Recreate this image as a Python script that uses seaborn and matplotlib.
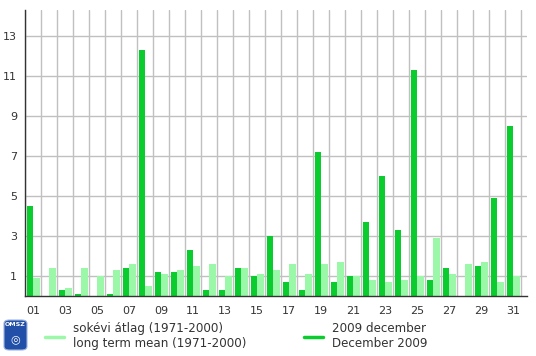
import numpy as np
import pandas as pd
import matplotlib
matplotlib.use("Agg")
import matplotlib.pyplot as plt
import seaborn as sns
from matplotlib.lines import Line2D
from matplotlib.patches import FancyBboxPatch

# daily values, December 2009 vs long term mean (1971-2000)
days = [f"{d:02d}" for d in range(1, 32)]
dec_2009 = [4.5, 0.0, 0.3, 0.1, 0.0, 0.1, 1.4, 12.3, 1.2, 1.2, 2.3, 0.3, 0.3, 1.4, 1.0, 3.0,
            0.7, 0.3, 7.2, 0.7, 1.0, 3.7, 6.0, 3.3, 11.3, 0.8, 1.4, 0.0, 1.5, 4.9, 8.5]
long_mean = [0.9, 1.4, 0.4, 1.4, 1.0, 1.3, 1.6, 0.5, 1.1, 1.3, 1.5, 1.6, 1.0, 1.4, 1.1, 1.3,
             1.6, 1.1, 1.6, 1.7, 1.0, 0.8, 0.7, 0.8, 1.0, 2.9, 1.1, 1.6, 1.7, 0.7, 1.0]
series_names = ["2009 december\nDecember 2009", "sokévi átlag (1971-2000)\nlong term mean (1971-2000)"]
colors = ["#0acc2e", "#9bf8a9"]

df = pd.DataFrame({
    "day": days * 2,
    "value": dec_2009 + long_mean,
    "series": [series_names[0]] * len(days) + [series_names[1]] * len(days),
})

sns.set_style("white")
plt.rcParams["font.family"] = ["DejaVu Sans"]

fig = plt.figure(figsize=(5.36, 3.56), dpi=100)
ax = fig.add_axes([25.3 / 536, 59.7 / 356, (527 - 25.3) / 536, (346 - 59.7) / 356])

sns.barplot(data=df, x="day", y="value", hue="series", hue_order=series_names,
            palette=colors, width=0.83, saturation=1, legend=False, ax=ax,
            linewidth=0, edgecolor="none", zorder=3)

ax.set_xlim(-0.5, 30.86)
ax.set_ylim(0, 14.3)
ax.set_xlabel("")
ax.set_ylabel("")

# x: labels on odd days, ticks and grid at day boundaries
ax.set_xticks(range(0, 31, 2))
ax.set_xticklabels(days[::2])
ax.set_xticks(np.arange(-0.5, 31, 1), minor=True)
ax.tick_params(axis="x", which="major", length=0, pad=7, labelsize=8, colors="#333333")
ax.tick_params(axis="x", which="minor", length=3, width=1, color="#333333", direction="out")

# y: labels and grid on odd values, small ticks on even ones
ax.set_yticks(range(1, 14, 2))
ax.set_yticks(range(2, 15, 2), minor=True)
ax.tick_params(axis="y", which="major", length=0, pad=6, labelsize=8, colors="#333333")
ax.tick_params(axis="y", which="minor", length=3, width=1, color="#333333", direction="out")

ax.grid(False)
ax.xaxis.grid(True, which="minor", color="#c0c0c0", linewidth=1, zorder=0)
ax.yaxis.grid(True, which="major", color="#c0c0c0", linewidth=1, zorder=0)
ax.set_axisbelow(True)

for side in ["top", "right"]:
    ax.spines[side].set_visible(False)
for side in ["left", "bottom"]:
    ax.spines[side].set_color("#333333")
    ax.spines[side].set_linewidth(1)
    ax.spines[side].set_zorder(5)

handles = [Line2D([], [], color=colors[1], linewidth=2.5),
           Line2D([], [], color=colors[0], linewidth=2.5)]
fig.legend(handles, [series_names[1], series_names[0]], ncol=2, frameon=False,
           loc="center left", bbox_to_anchor=(34 / 536, 20 / 356),
           fontsize=8.6, handlelength=1.65, handletextpad=0.75, columnspacing=4.75,
           labelcolor="#333333", labelspacing=0)

# OMSZ logo
logo = FancyBboxPatch((4 / 536, 6 / 356), 23 / 536, 30 / 356,
                      boxstyle="round,pad=0,rounding_size=0.01",
                      transform=fig.transFigure, facecolor="#2250a8", edgecolor="#9fb4dd",
                      linewidth=0.8)
fig.patches.append(logo)
fig.text(15.5 / 536, 31 / 356, "OMSZ", color="white", fontsize=4.5, fontweight="bold",
         ha="center", va="center")
fig.text(15.5 / 536, 17 / 356, "◎", color="white", fontsize=8, ha="center", va="center")

fig.savefig("out.png", dpi=100)
